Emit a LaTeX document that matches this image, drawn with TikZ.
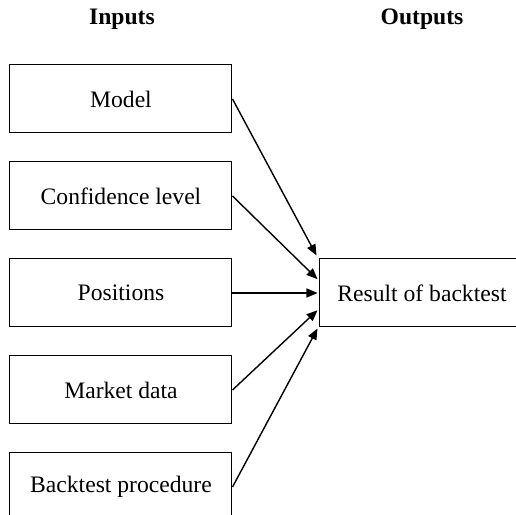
\documentclass[tikz,border=0pt]{standalone}
\usepackage{fontspec}
\setmainfont{Liberation Serif}
\usetikzlibrary{arrows.meta,positioning,calc}
\tikzset{
  inbox/.style={draw=black, line width=0.5pt, minimum width=111pt, minimum height=34pt, align=center, font=\fontsize{11.8}{14}\selectfont},
  outbox/.style={inbox, minimum width=102pt},
  heading/.style={font=\fontsize{11.8}{14}\selectfont\bfseries},
  feed/.style={-{Triangle[length=5.5pt,width=4.5pt]}, line width=0.7pt, draw=black}
}
\begin{document}
\begin{tikzpicture}[node distance=14pt]
  \useasboundingbox (0,0) rectangle (258pt,257.5pt);
  \node[heading] (hin) at (61pt,248pt) {Inputs};
  \node[heading] (hout) at (211pt,248pt) {Outputs};

  \node[inbox] (model) at (60.5pt,208pt) {Model};
  \node[inbox, below=of model] (conf) {Confidence level};
  \node[inbox, below=of conf] (pos) {Positions};
  \node[inbox, below=of pos] (mkt) {Market data};
  \node[inbox, below=of mkt] (proc) {Backtest procedure};
  \node[outbox, right=43.5pt of pos] (res) {Result of backtest};

  \coordinate (t1) at ($(res.north west)+(-1.5pt,1.5pt)$);
  \coordinate (t2) at ($(res.north west)!0.3!(res.south west)+(-1pt,0)$);
  \coordinate (t3) at ($(res.west)+(-1pt,0)$);
  \coordinate (t4) at ($(res.north west)!0.75!(res.south west)+(-1pt,0)$);
  \coordinate (t5) at ($(res.south west)+(-1pt,-0.5pt)$);

  \draw[feed] (model.east) -- (t1);
  \draw[feed] (conf.east) -- (t2);
  \draw[feed] (pos.east) -- (t3);
  \draw[feed] (mkt.east) -- (t4);
  \draw[feed] (proc.east) -- (t5);
\end{tikzpicture}
\end{document}
